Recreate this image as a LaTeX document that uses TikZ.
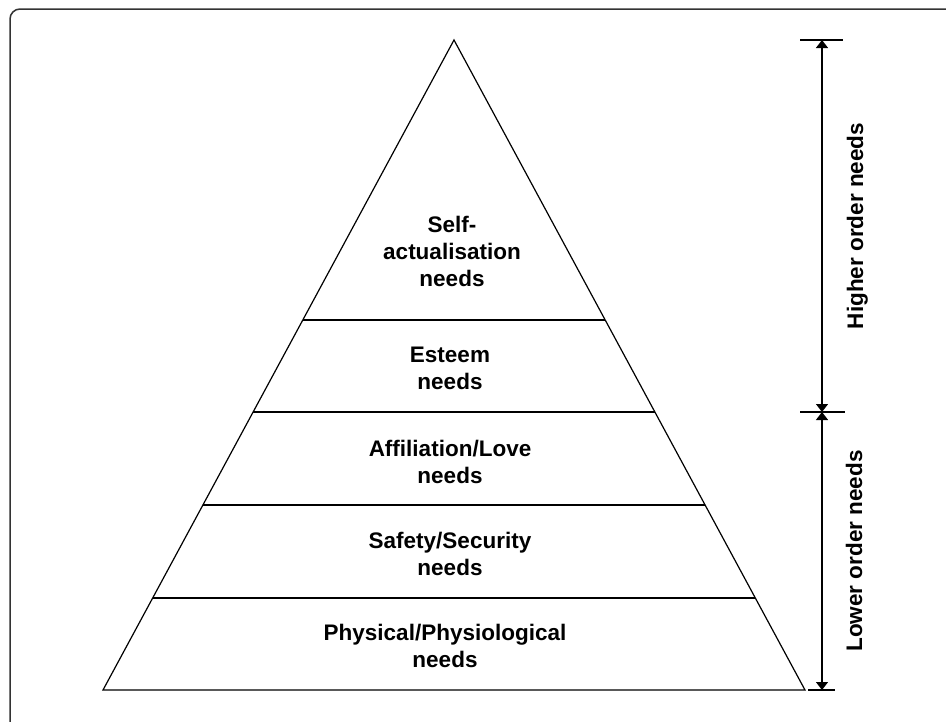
\documentclass[tikz,border=0pt]{standalone}
\usepackage{fontspec}
\setmainfont{Liberation Sans}
\usetikzlibrary{arrows.meta,calc}
\begin{document}
\begin{tikzpicture}[x=1pt,y=-1pt,
  edge/.style={line width=1.2pt,black},
  label/.style={font=\bfseries\fontsize{22.5}{27}\selectfont,align=center,inner sep=0pt},
  sidelabel/.style={font=\bfseries\fontsize{22.5}{27}\selectfont,inner sep=0pt,rotate=90,anchor=base},
  dim/.style={line width=1.2pt,black,{Triangle[width=12pt,length=8pt]}-{Triangle[width=12pt,length=8pt]}}]
\useasboundingbox (0,0) rectangle (946,721);
% frame
\draw[line width=1.5pt,draw=black!80,rounded corners=10pt] (10,9) rectangle (980,760);
% pyramid
\coordinate (apex) at (454,40);
\coordinate (bl) at (103,690);
\coordinate (br) at (805,690);
\draw[edge,line join=miter] (apex) -- (bl) -- (br) -- cycle;
\foreach \t/\n in {0.4308/a,0.5723/b,0.7154/c,0.8585/d}{
  \coordinate (l\n) at ($(apex)!\t!(bl)$);
  \coordinate (r\n) at ($(apex)!\t!(br)$);
  \draw[edge] (l\n) -- (r\n);
}
% labels
\node[label] (self) at (452,251) {Self-\\actualisation\\needs};
\node[label] (esteem) at (450,368.5) {Esteem\\needs};
\node[label] (love) at (450,461.5) {Affiliation/Love\\needs};
\node[label] (safety) at (450,553.5) {Safety/Security\\needs};
\node[label] (phys) at (445,645.5) {Physical/Physiological\\needs};
% dimension ticks
\coordinate (t1a) at (800,40);  \coordinate (t1b) at (843,40);
\coordinate (t2a) at (800,412); \coordinate (t2b) at (845,412);
\coordinate (t3a) at (808,690); \coordinate (t3b) at (835,690);
\draw[edge] (t1a) -- (t1b);
\draw[edge] (t2a) -- (t2b);
\draw[edge] (t3a) -- (t3b);
\coordinate (atop) at (822,40);
\coordinate (amid) at (822,412);
\coordinate (abot) at (822,690);
\draw[dim] (amid) -- (atop);
\draw[dim] (amid) -- (abot);
\node[sidelabel] (higher) at (863,226) {Higher order needs};
\node[sidelabel] (lower) at (862,551) {Lower order needs};
\end{tikzpicture}
\end{document}
